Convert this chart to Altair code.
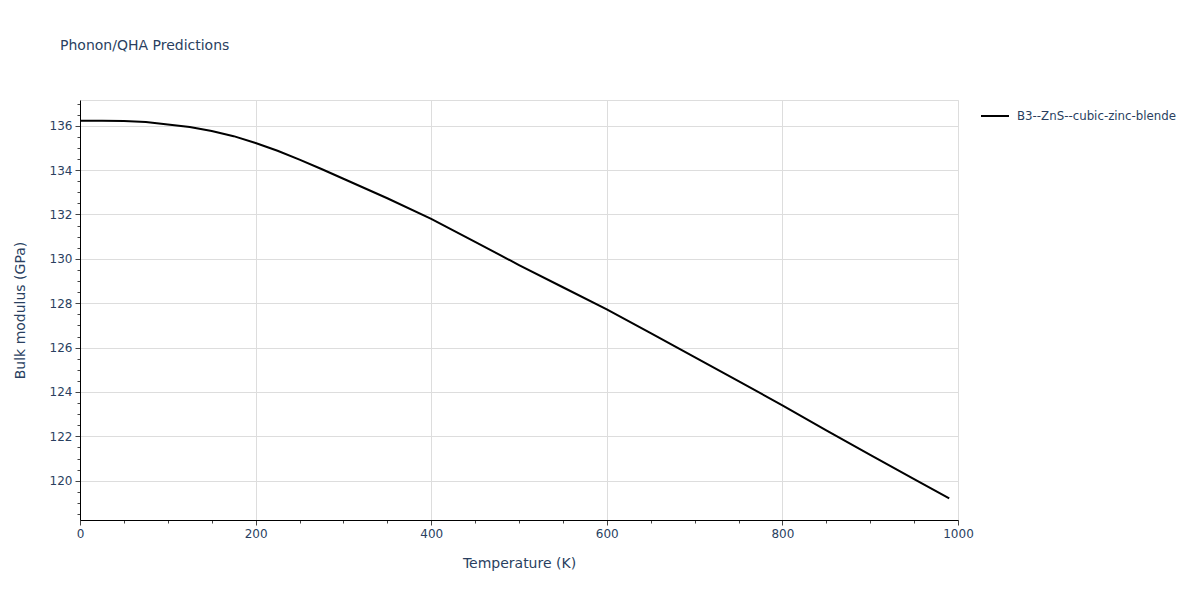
import altair as alt
import pandas as pd

temperature = [0, 25, 50, 75, 100, 125, 150, 175, 200, 225, 250, 275, 300, 350,
               400, 450, 500, 550, 600, 650, 700, 750, 800, 850, 900, 950, 990]
bulk_modulus = [136.23, 136.23, 136.21, 136.17, 136.06, 135.94, 135.76, 135.53,
                135.22, 134.87, 134.47, 134.05, 133.61, 132.73, 131.80, 130.77,
                129.72, 128.72, 127.72, 126.65, 125.57, 124.49, 123.40, 122.27,
                121.16, 120.07, 119.21]
series_name = "B3--ZnS--cubic-zinc-blende"

x_ticks = list(range(0, 1001, 50))
y_ticks = [118.5 + 0.5 * i for i in range(38)]

df = pd.DataFrame({
    "Temperature": temperature,
    "Bulk": bulk_modulus,
    "Series": [series_name] * len(temperature),
})

TXT = "#2a3f5f"
FONT = "DejaVu Sans"

x_axis = alt.Axis(
    title="Temperature (K)",
    values=x_ticks,
    labelExpr="datum.value % 200 === 0 ? format(datum.value, 'd') : ''",
    labelOverlap=False,
    labelFlush=False,
    tickSize=alt.condition("datum.value % 200 === 0", alt.value(5), alt.value(3)),
    gridOpacity=alt.condition("datum.value % 200 === 0", alt.value(1), alt.value(0)),
    gridColor="#dddddd",
    domainColor="black",
    tickColor="#444444",
    labelColor=TXT,
    labelFont=FONT,
    labelFontSize=12,
    labelPadding=3,
    titleColor=TXT,
    titleFont=FONT,
    titleFontSize=14,
    titleFontWeight="normal",
    titlePadding=17,
)

y_axis = alt.Axis(
    title="Bulk modulus (GPa)",
    values=y_ticks,
    labelExpr="datum.value % 2 === 0 ? format(datum.value, 'd') : ''",
    labelOverlap=False,
    labelFlush=False,
    tickSize=alt.condition("datum.value % 2 === 0", alt.value(5), alt.value(3)),
    gridOpacity=alt.condition("datum.value % 2 === 0", alt.value(1), alt.value(0)),
    gridColor="#dddddd",
    domainColor="black",
    tickColor="#444444",
    labelColor=TXT,
    labelFont=FONT,
    labelFontSize=12,
    labelPadding=3,
    titleColor=TXT,
    titleFont=FONT,
    titleFontSize=14,
    titleFontWeight="normal",
    titlePadding=22,
)

chart = alt.Chart(df).mark_line(strokeWidth=2).encode(
    x=alt.X("Temperature:Q", scale=alt.Scale(domain=[0, 1000], nice=False, zero=False), axis=x_axis),
    y=alt.Y("Bulk:Q", scale=alt.Scale(domain=[118.23, 137.16], nice=False, zero=False), axis=y_axis),
    color=alt.Color(
        "Series:N",
        scale=alt.Scale(range=["black"]),
        legend=alt.Legend(
            title=None,
            orient="none",
            legendX=900,
            legendY=1,
            symbolType="stroke",
            symbolSize=784,
            symbolStrokeWidth=2,
            labelColor=TXT,
            labelFont=FONT,
            labelFontSize=11.8,
            labelOffset=7,
            labelLimit=0,
        ),
    ),
).properties(
    width=878,
    height=420,
    title=alt.TitleParams(
        "Phonon/QHA Predictions",
        anchor="start",
        frame="group",
        dx=-20,
        offset=45,
        color=TXT,
        font=FONT,
        fontSize=14,
        fontWeight="normal",
    ),
    autosize=alt.AutoSizeParams(type="none"),
    padding={"left": 72, "top": 92, "right": 230, "bottom": 60},
).configure_view(stroke=None).configure(background="white")

chart.save("out.html", embed_options={"renderer": "svg", "actions": False})
